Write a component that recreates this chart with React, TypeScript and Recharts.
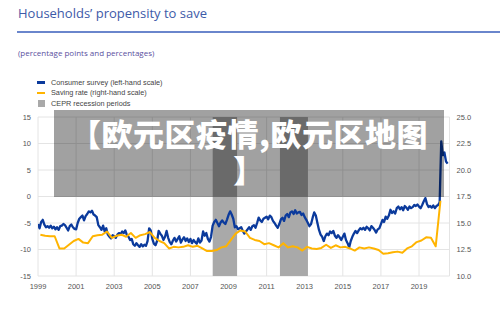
import React from 'react';
import {
  ComposedChart,
  Line,
  XAxis,
  YAxis,
  CartesianGrid,
  ReferenceArea,
  ReferenceLine,
} from 'recharts';

// consumer survey, monthly from Jan 1999 (percentage points, left-hand scale)
const consumerSurvey: number[] = [
  // 1999
  -5.2, -6.0, -4.8, -4.4, -5.3, -5.8, -5.6, -5.9, -5.5, -6.0, -5.7, -6.2,
  // 2000
  -5.8, -6.3, -5.6, -5.5, -5.2, -5.4, -5.9, -6.4, -5.6, -5.3, -5.8, -6.1,
  // 2001
  -6.2, -5.0, -4.2, -3.9, -3.6, -4.5, -3.7, -3.3, -2.8, -3.0, -2.7, -3.4,
  // 2002
  -3.6, -3.9, -5.4, -5.8, -6.3, -5.5, -6.6, -6.0, -7.2, -7.6, -7.9, -7.3,
  // 2003
  -7.5, -7.8, -7.2, -6.9, -7.1, -6.6, -6.9, -6.4, -7.3, -7.6, -8.2, -8.0,
  // 2004
  -9.0, -9.3, -8.8, -9.2, -9.5, -9.0, -9.4, -9.1, -9.3, -8.4, -6.0, -6.4,
  // 2005
  -8.0, -8.9, -9.2, -8.4, -6.5, -7.0, -7.4, -8.2, -7.6, -6.5, -7.8, -8.6,
  // 2006
  -9.0, -8.3, -7.8, -8.5, -8.0, -7.5, -8.7, -8.1, -7.7, -8.4, -7.9, -8.6,
  // 2007
  -8.0, -8.8, -8.2, -8.6, -8.9, -7.9, -8.7, -8.3, -6.6, -7.4, -6.9, -8.0,
  // 2008
  -8.5, -7.6, -5.5, -4.8, -4.4, -5.0, -5.6, -4.9, -4.5, -4.9, -5.2, -4.4,
  // 2009
  -3.5, -2.8, -3.4, -4.2, -5.8, -5.6, -6.2, -6.0, -5.8, -6.5, -7.0, -6.6,
  // 2010
  -6.2, -5.8, -6.3, -5.6, -5.4, -5.9, -5.0, -4.0, -4.5, -4.8, -4.2, -4.0,
  // 2011
  -3.8, -4.3, -3.6, -3.9, -4.6, -5.0, -5.5, -5.9, -5.2, -4.3, -4.0, -4.6,
  // 2012
  -3.6, -3.3, -3.9, -3.0, -2.8, -3.3, -2.6, -3.2, -3.0, -2.9, -3.5, -3.2,
  // 2013
  -3.9, -4.4, -5.0, -5.6, -5.2, -4.0, -3.0, -3.6, -5.0, -6.3, -7.2, -7.6,
  // 2014
  -8.4, -7.5, -7.0, -7.3, -6.6, -6.9, -6.5, -7.4, -7.8, -7.3, -7.7, -8.2,
  // 2015
  -7.6, -7.0, -8.2, -8.8, -9.6, -8.4, -7.6, -7.0, -6.5, -6.9, -6.4, -6.0,
  // 2016
  -6.2, -5.9, -6.3, -5.7, -6.0, -6.4, -5.6, -5.9, -6.3, -6.8, -6.2, -6.0,
  // 2017
  -5.2, -4.4, -4.8, -3.8, -4.2, -3.6, -2.5, -3.1, -2.8, -3.2, -2.2, -1.9,
  // 2018
  -2.4, -2.0, -2.6, -1.8, -2.1, -2.5, -1.9, -2.2, -2.0, -1.6, -1.8, -1.5,
  // 2019
  -1.9, -2.2, -1.6, -0.9, -0.3, -1.4, -2.0, -1.8, -2.1, -1.7, -2.2, -1.8,
  // 2020
  -1.6, -1.1, 10.4, 7.8, 8.3, 6.6, 6.2,
];

// saving rate, quarterly from 1999Q1 (percentages, right-hand scale)
const savingRate: number[] = [
  13.9, 13.8, 13.75, 13.75,
  12.6, 12.6, 12.95, 13.3,
  13.5, 13.15, 13.1, 13.75,
  13.85, 13.9, 14.2, 13.6,
  13.8, 13.9, 13.7, 14.05,
  13.6, 13.85, 13.95, 14.15,
  13.6, 13.3, 13.1, 12.6,
  12.75, 12.7, 12.75, 12.9,
  12.75, 12.85, 12.6, 12.35,
  12.35, 12.45, 12.7, 12.8,
  13.4, 14.0, 14.3, 14.2,
  13.6, 13.4, 13.3, 13.0,
  13.1, 12.9, 12.7, 13.1,
  12.7, 12.8, 12.7, 12.4,
  12.75, 12.6, 12.55, 12.65,
  12.95, 12.65, 12.9, 12.7,
  12.75, 12.6, 12.4, 12.7,
  12.6, 12.7, 12.6, 12.45,
  12.1, 12.15, 12.25, 12.3,
  12.2, 12.6, 12.8, 13.2,
  13.35, 13.65, 13.6, 12.8,
  17.1,
];

// CEPR recession periods
const recessions: [number, number][] = [
  [2008.17, 2009.45],
  [2011.7, 2013.17],
];

const yearTicks = [1999, 2001, 2003, 2005, 2007, 2009, 2011, 2013, 2015, 2017, 2019];
const leftTicks = [-15, -10, -5, 0, 5, 10, 15];
const rightTicks = [10, 12.5, 15, 17.5, 20, 22.5, 25];

const bannerLines = ['【欧元区疫情,欧元区地图', '】'];

const surveyData = consumerSurvey.map((v, i) => ({ t: 1999 + i / 12, v }));
const savingData = savingRate.map((v, i) => ({ t: 1999.125 + i * 0.25, v }));

const BLUE = '#0b3a9c';
const YELLOW = '#ffb400';
const GRID = '#e4e4e4';
const tickStyle = { fontSize: 7.5, fill: '#555', fontFamily: '"Liberation Sans", Arial, sans-serif' };

const legendItems = [
  { label: 'Consumer survey (left-hand scale)', color: BLUE, kind: 'line' },
  { label: 'Saving rate (right-hand scale)', color: YELLOW, kind: 'line' },
  { label: 'CEPR recession periods', color: '#a9a9a9', kind: 'box' },
];

export default function App() {
  return (
    <div
      style={{
        position: 'absolute',
        left: 0,
        top: 0,
        width: 500,
        height: 309,
        background: '#fff',
        overflow: 'hidden',
      }}
    >
      <div
        style={{
          position: 'absolute',
          left: 18,
          top: 4,
          fontFamily: '"Open Sans", sans-serif',
          fontSize: 13,
          color: '#3d5aa8',
          whiteSpace: 'nowrap',
        }}
      >
        Households’ propensity to save
      </div>
      <div style={{ position: 'absolute', left: 17, top: 31, width: 483, height: 1.5, background: '#6a86cc' }} />
      <div
        style={{
          position: 'absolute',
          left: 18,
          top: 47,
          fontFamily: '"Open Sans", sans-serif',
          fontSize: 8,
          color: '#5a4fa0',
          whiteSpace: 'nowrap',
        }}
      >
        (percentage points and percentages)
      </div>

      {legendItems.map((item, i) => (
        <div
          key={item.label}
          style={{ position: 'absolute', left: 37, top: 78 + i * 10.3, height: 9, display: 'flex', alignItems: 'center' }}
        >
          {item.kind === 'line' ? (
            <div style={{ width: 8, height: 2.2, background: item.color }} />
          ) : (
            <div style={{ width: 7, height: 7, background: item.color, marginLeft: 0.5, marginRight: 0.5 }} />
          )}
          <span
            style={{
              marginLeft: 6,
              fontFamily: '"Liberation Sans", Arial, sans-serif',
              fontSize: 7.3,
              color: '#444',
              whiteSpace: 'nowrap',
            }}
          >
            {item.label}
          </span>
        </div>
      ))}

      <div style={{ position: 'absolute', left: 0, top: 0 }}>
        <ComposedChart width={500} height={309} margin={{ top: 117, right: 10, bottom: 0, left: 0 }}>
          <CartesianGrid stroke={GRID} strokeWidth={1} />
          <XAxis
            dataKey="t"
            type="number"
            domain={[1999, 2020.6]}
            ticks={yearTicks}
            allowDataOverflow
            axisLine={false}
            tickLine={false}
            tick={tickStyle}
            tickSize={6}
            tickMargin={2}
            height={33}
            interval={0}
          />
          <YAxis
            domain={[-15, 15]}
            ticks={leftTicks}
            axisLine={false}
            tickLine={false}
            tick={tickStyle}
            tickSize={6}
            tickMargin={1}
            width={38}
            interval={0}
          />
          <YAxis
            yAxisId="right"
            orientation="right"
            domain={[10, 25]}
            ticks={rightTicks}
            axisLine={false}
            tickLine={false}
            tick={tickStyle}
            tickSize={5}
            tickMargin={2}
            width={40.5}
            interval={0}
            tickFormatter={(v: number) => v.toFixed(1)}
          />
          {recessions.map(([a, b]) => (
            <ReferenceArea key={a} x1={a} x2={b} y1={-15} y2={15} fill="#a9a9a9" fillOpacity={1} stroke="none" />
          ))}
          <ReferenceLine x={2020.6} stroke={GRID} strokeWidth={1} />
          <Line
            data={surveyData}
            dataKey="v"
            stroke={BLUE}
            strokeWidth={2.3}
            dot={false}
            isAnimationActive={false}
            strokeLinejoin="round"
          />
          <Line
            data={savingData}
            dataKey="v"
            yAxisId="right"
            stroke={YELLOW}
            strokeWidth={2}
            dot={false}
            isAnimationActive={false}
            strokeLinejoin="round"
          />
        </ComposedChart>
      </div>

      {/* dark caption banner laid over the upper plot */}
      <div
        style={{
          position: 'absolute',
          left: 54,
          top: 110,
          width: 390,
          height: 87,
          background: 'rgba(0,0,0,0.37)',
        }}
      />
      {bannerLines.map((line, i) => (
        <div
          key={line}
          style={{
            position: 'absolute',
            left: 30,
            top: 117 + i * 36,
            width: 438,
            height: 32,
            textAlign: 'center',
            fontFamily: '"Noto Sans CJK SC", sans-serif',
            fontWeight: 900,
            fontSize: 31,
            letterSpacing: 0.5,
            lineHeight: '32px',
            color: '#fff',
            whiteSpace: 'nowrap',
          }}
        >
          {line}
        </div>
      ))}
    </div>
  );
}
